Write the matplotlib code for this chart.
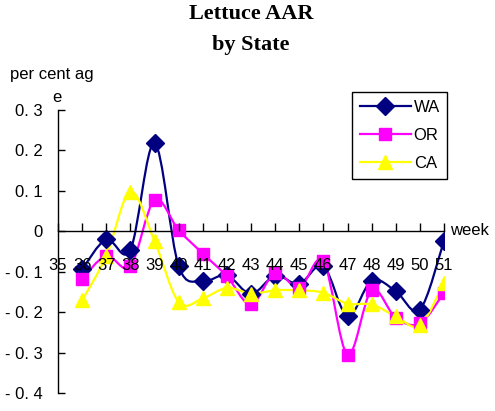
import matplotlib

matplotlib.use("Agg")

import matplotlib.pyplot as plt
import numpy as np
from matplotlib.patches import PathPatch
from matplotlib.path import Path

WEEKS = list(range(36, 52))

WA = [-0.094, -0.020, -0.046, 0.218, -0.086, -0.123, -0.109, -0.155,
      -0.110, -0.130, -0.086, -0.210, -0.122, -0.148, -0.194, -0.024]
OR = [-0.117, -0.061, -0.086, 0.077, 0.003, -0.055, -0.111, -0.181,
      -0.103, -0.140, -0.074, -0.305, -0.146, -0.214, -0.228, -0.152]
CA = [-0.171, -0.061, 0.098, -0.024, -0.175, -0.166, -0.140, -0.154,
      -0.146, -0.146, -0.152, -0.179, -0.181, -0.210, -0.233, -0.127]

SERIES = [
    ("WA", WA, "#000080", "D", 9),
    ("OR", OR, "#FF00FF", "s", 8),
    ("CA", CA, "#FFFF00", "^", 10),
]

X_TICKS = list(range(35, 52))
Y_TICKS = [-0.4, -0.3, -0.2, -0.1, 0.0, 0.1, 0.2, 0.3]
Y_LABELS = ["- 0. 4", "- 0. 3", "- 0. 2", "- 0. 1", "0", "0. 1", "0. 2", "0. 3"]


def smooth_path(xs, ys):
    # excel-style smoothed line: bezier segments with catmull-rom handles
    pts = np.column_stack([xs, ys]).astype(float)
    verts = [pts[0]]
    codes = [Path.MOVETO]
    n = len(pts)
    for i in range(n - 1):
        p0 = pts[max(i - 1, 0)]
        p1 = pts[i]
        p2 = pts[i + 1]
        p3 = pts[min(i + 2, n - 1)]
        verts += [p1 + (p2 - p0) / 6, p2 - (p3 - p1) / 6, p2]
        codes += [Path.CURVE4] * 3
    return Path(verts, codes)


plt.rcParams["font.family"] = ["Liberation Sans", "DejaVu Sans"]

fig = plt.figure(figsize=(4.95, 4.11), dpi=100)
ax = fig.add_axes([58 / 495, 18 / 411, 386 / 495, 283 / 411])

for name, values, color, marker, size in SERIES:
    patch = PathPatch(
        smooth_path(WEEKS, values),
        facecolor="none",
        edgecolor=color,
        linewidth=1.6,
        zorder=2,
    )
    ax.add_patch(patch)
    ax.plot(
        WEEKS,
        values,
        linestyle="none",
        marker=marker,
        markersize=size,
        color=color,
        markeredgecolor=color,
        zorder=3,
    )

ax.set_xlim(35, 51)
ax.set_ylim(-0.4, 0.3)

ax.spines["top"].set_visible(False)
ax.spines["right"].set_visible(False)
ax.spines["bottom"].set_position(("data", 0))
ax.spines["left"].set_linewidth(1.0)
ax.spines["bottom"].set_linewidth(1.0)

ax.set_xticks(X_TICKS)
ax.set_xticklabels([str(w) for w in X_TICKS], fontsize=12)
ax.set_yticks(Y_TICKS)
ax.set_yticklabels(Y_LABELS, fontsize=12)
ax.tick_params(axis="x", direction="in", length=6, pad=19, width=1)
ax.tick_params(axis="y", direction="in", length=5, pad=11, width=1)
# tick labels sit on top of the lines, as in the original
ax.xaxis.set_zorder(5)

ax.text(51.25, 0.002, "week", ha="left", va="center", fontsize=12)

fig.text(251 / 495, 1 - 14 / 411, "Lettuce AAR", ha="center", va="center",
         fontsize=16, fontweight="bold", family="Liberation Serif")
fig.text(251 / 495, 1 - 45 / 411, "by State", ha="center", va="center",
         fontsize=16, fontweight="bold", family="Liberation Serif")
fig.text(10 / 495, 1 - 75 / 411, "per cent ag", ha="left", va="center",
         fontsize=12)
fig.text(52 / 495, 1 - 97 / 411, "e", ha="left", va="center", fontsize=12)

handles = [
    plt.Line2D([], [], color=c, marker=m, markersize=s, linewidth=1.6)
    for _, _, c, m, s in SERIES
]
leg = ax.legend(
    handles,
    [s[0] for s in SERIES],
    loc="upper left",
    bbox_to_anchor=(352 / 495, 1 - 92 / 411),
    bbox_transform=fig.transFigure,
    fancybox=False,
    framealpha=1,
    edgecolor="black",
    fontsize=12,
    handlelength=3.1,
    handletextpad=0.15,
    labelspacing=0.8,
    borderpad=0.45,
    borderaxespad=0,
)
leg.get_frame().set_linewidth(1.0)
leg.set_zorder(6)

fig.savefig("out.png", dpi=100)
